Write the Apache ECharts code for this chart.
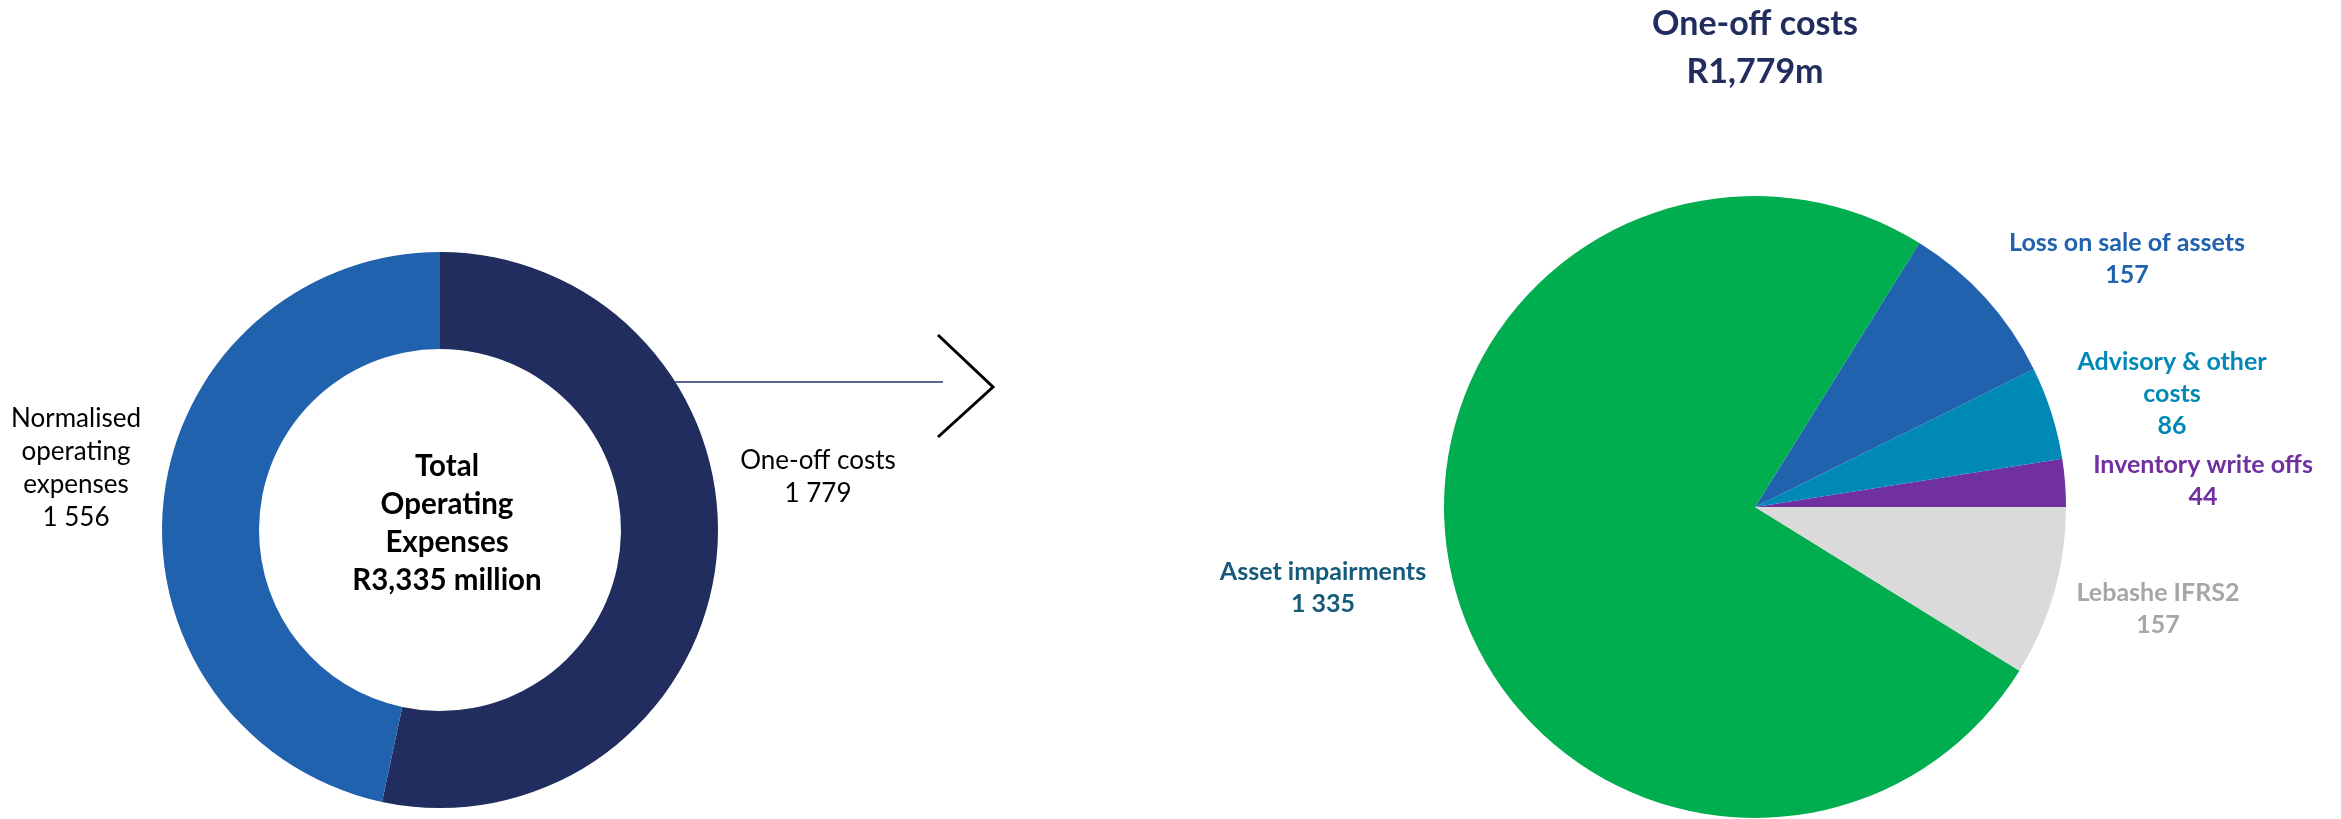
<!DOCTYPE html>
<html>
<head>
<meta charset="utf-8">
<script src="https://cdn.jsdelivr.net/npm/echarts@6/dist/echarts.min.js"></script>
<style>
  html, body { margin: 0; padding: 0; background: #ffffff; }
  #chart { width: 2341px; height: 819px; }
</style>
</head>
<body>
<div id="chart"></div>
<script>
// Operating expenses split (R million)
const overviewNames = ['One-off costs', 'Normalised\noperating\nexpenses'];
const overviewValues = [1779, 1556];

// Breakdown of the one-off costs (R million), counter-clockwise from 3 o'clock
const oneOffNames = ['Inventory write offs', 'Advisory & other\ncosts', 'Loss on sale of assets', 'Asset impairments', 'Lebashe IFRS2'];
const oneOffValues = [44, 86, 157, 1335, 157];

const FONT = 'Lato, "Open Sans", sans-serif';
const overviewColors = ['#202d5e', '#2162ae'];
const oneOffColors = ['#7030a0', '#0089b5', '#2162ae', '#00ae4f', '#dadada'];
const oneOffLabelColors = ['#7030a0', '#0089b5', '#2162ae', '#145a7a', '#a6a6a6'];

// label anchor points (centre of each text block)
const overviewLabelPos = [[818, 477], [76, 468]];
const oneOffLabelPos = [[2203, 481], [2172, 394], [2127, 259], [1323, 588], [2158, 609]];

const spaced = v => String(v).replace(/\B(?=(\d{3})+(?!\d))/g, ' ');
const commas = v => String(v).replace(/\B(?=(\d{3})+(?!\d))/g, ',');
const sum = a => a.reduce((s, v) => s + v, 0);

const chart = echarts.init(document.getElementById('chart'), null, { renderer: 'canvas' });

chart.setOption({
  animation: false,
  backgroundColor: '#ffffff',
  title: [
    {
      text: 'One-off costs\nR' + commas(sum(oneOffValues)) + 'm',
      left: 1755, top: 0, textAlign: 'center', padding: 0,
      textStyle: { fontFamily: FONT, fontWeight: 'bold', fontSize: 34, lineHeight: 48, color: '#202d5e' }
    },
    {
      text: 'Total\nOperating\nExpenses\nR' + commas(sum(overviewValues)) + ' million',
      left: 447, top: 447, textAlign: 'center', padding: 0,
      textStyle: { fontFamily: FONT, fontWeight: 'bold', fontSize: 29.5, lineHeight: 38, color: '#000000' }
    }
  ],
  graphic: [
    { type: 'line', shape: { x1: 675, y1: 382, x2: 943, y2: 382 }, style: { stroke: '#5b6495', lineWidth: 2 }, z: 10 },
    { type: 'polyline', shape: { points: [[938, 335], [993, 387], [938, 437]] }, style: { stroke: '#000000', lineWidth: 3, fill: null }, z: 10 }
  ],
  series: [
    {
      type: 'pie',
      center: [440, 530],
      radius: [181, 278],
      startAngle: 90,
      clockwise: true,
      silent: true,
      avoidLabelOverlap: false,
      data: overviewNames.map((n, i) => ({ name: n, value: overviewValues[i], itemStyle: { color: overviewColors[i] } })),
      label: {
        show: true, position: 'outside',
        formatter: p => p.name + '\n' + spaced(p.value),
        fontFamily: FONT, fontSize: 26, lineHeight: 33, color: '#000000', align: 'center'
      },
      labelLine: { show: false },
      labelLayout: p => ({ x: overviewLabelPos[p.dataIndex][0], y: overviewLabelPos[p.dataIndex][1], align: 'center', verticalAlign: 'middle' })
    },
    {
      type: 'pie',
      center: [1755, 507],
      radius: 311,
      startAngle: 0,
      clockwise: false,
      silent: true,
      avoidLabelOverlap: false,
      data: oneOffNames.map((n, i) => ({
        name: n, value: oneOffValues[i],
        itemStyle: { color: oneOffColors[i] },
        label: { color: oneOffLabelColors[i] }
      })),
      label: {
        show: true, position: 'outside',
        formatter: p => p.name + '\n' + spaced(p.value),
        fontFamily: FONT, fontWeight: 'bold', fontSize: 25, lineHeight: 32, align: 'center'
      },
      labelLine: { show: false },
      labelLayout: p => ({ x: oneOffLabelPos[p.dataIndex][0], y: oneOffLabelPos[p.dataIndex][1], align: 'center', verticalAlign: 'middle' })
    }
  ]
});
</script>
</body>
</html>
